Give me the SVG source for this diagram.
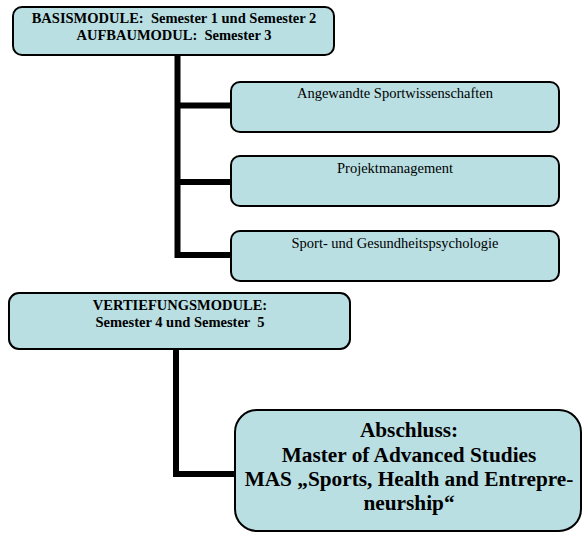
<svg xmlns="http://www.w3.org/2000/svg" width="583" height="533" viewBox="0 0 583 533">
<style>
.box{fill:#b9dfe3;stroke:#000;stroke-width:2}
.t{font-family:"Liberation Serif","Times New Roman",serif;fill:#000;text-anchor:middle;white-space:pre}
.b{font-weight:bold;font-size:14.5px}
.r{font-size:14.5px}
.big{font-weight:bold;font-size:21.3px}
.conn{fill:none;stroke:#000;stroke-width:6;stroke-linejoin:miter}
</style>
<rect width="583" height="533" fill="#fff"/>
<g id="connectors">
<path class="conn" d="M177.5 55 V258 M177.5 105.5 H232 M177.5 182 H232 M177.5 255 H232"/>
<path class="conn" d="M176 349 V477 M176 474 H236"/>
</g>
<g id="basis">
<rect class="box" x="13" y="7" width="321" height="48" rx="9"/>
<text class="t b" x="174" y="23">BASISMODULE:  Semester 1 und Semester 2</text>
<text class="t b" x="174" y="40">AUFBAUMODUL:  Semester 3</text>
</g>
<g id="angewandte">
<rect class="box" x="231" y="82" width="328" height="50" rx="9"/>
<text class="t r" x="395" y="98">Angewandte Sportwissenschaften</text>
</g>
<g id="projekt">
<rect class="box" x="231" y="156" width="328" height="50" rx="9"/>
<text class="t r" x="395" y="173">Projektmanagement</text>
</g>
<g id="psycho">
<rect class="box" x="231" y="231" width="328" height="50" rx="9"/>
<text class="t r" x="395" y="248">Sport- und Gesundheitspsychologie</text>
</g>
<g id="vertiefung">
<rect class="box" x="9" y="293" width="341" height="56" rx="10"/>
<text class="t b" x="180" y="310">VERTIEFUNGSMODULE:</text>
<text class="t b" x="180" y="327">Semester 4 und Semester  5</text>
</g>
<g id="abschluss">
<rect class="box" x="235" y="410" width="346" height="121" rx="22"/>
<text class="t big" x="409" y="437">Abschluss:</text>
<text class="t big" x="409" y="462">Master of Advanced Studies</text>
<text class="t big" x="409" y="486">MAS „Sports, Health and Entrepre-</text>
<text class="t big" x="409" y="510">neurship“</text>
</g>
</svg>
